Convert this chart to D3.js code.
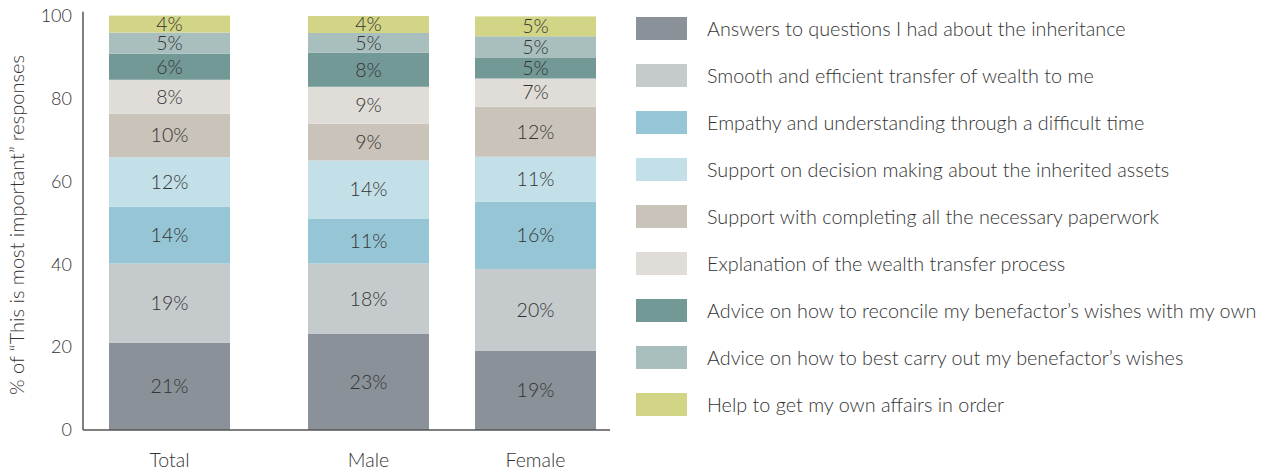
<!DOCTYPE html>
<html>
<head>
<meta charset="utf-8">
<script src="https://cdn.jsdelivr.net/npm/d3@7"></script>
<style>
  body { margin: 0; background: #fff; }
  text { font-family: Lato, "Open Sans", sans-serif; font-weight: 300; fill: #333; }
</style>
</head>
<body>
<div id="chart"></div>
<script>
//////////////////////////////////////////////////////////////////////////////
// Data

var categories = ["Total", "Male", "Female"];

var series = [
    "Answers to questions I had about the inheritance",
    "Smooth and efficient transfer of wealth to me",
    "Empathy and understanding through a difficult time",
    "Support on decision making about the inherited assets",
    "Support with completing all the necessary paperwork",
    "Explanation of the wealth transfer process",
    "Advice on how to reconcile my benefactor\u2019s wishes with my own",
    "Advice on how to best carry out my benefactor\u2019s wishes",
    "Help to get my own affairs in order"
];

// segment sizes as drawn (bottom to top)
var totalValues  = [21.1, 19.1, 13.7, 12.0, 10.5, 8.2, 6.3, 5.1, 4.1];
var maleValues   = [23.2, 17.0, 10.9, 14.0,  8.9, 8.9, 8.2, 4.8, 4.1];
var femaleValues = [19.1, 19.8, 16.2, 10.9, 12.1, 6.8, 5.1, 5.1, 4.8];

// printed labels
var totalLabels  = ["21%", "19%", "14%", "12%", "10%", "8%", "6%", "5%", "4%"];
var maleLabels   = ["23%", "18%", "11%", "14%", "9%", "9%", "8%", "5%", "4%"];
var femaleLabels = ["19%", "20%", "16%", "11%", "12%", "7%", "5%", "5%", "5%"];

var yTicks = [0, 20, 40, 60, 80, 100];

var colors = ["#8a9199", "#c5cacd", "#96c6d6", "#c3e0e8", "#c9c3b9",
              "#e0ddd8", "#739997", "#a9bfbe", "#d2d585"];

//////////////////////////////////////////////////////////////////////////////
// Layout

var width = 1267, height = 471;
var values = [totalValues, maleValues, femaleValues];
var labels = [totalLabels, maleLabels, femaleLabels];

var rows = categories.map(function(c, i) {
    var r = { cat: c };
    series.forEach(function(s, j) { r[s] = values[i][j]; r["lbl" + j] = labels[i][j]; });
    return r;
});

var stacked = d3.stack().keys(series)(rows);

var xScale = d3.scaleOrdinal().domain(categories).range([169.5, 368.5, 535.5]);
var barW = 121;
var yScale = d3.scaleLinear().domain([0, 100]).range([430, 16]);
var color = d3.scaleOrdinal().domain(series).range(colors);

var svg = d3.select("#chart").append("svg")
    .attr("width", width)
    .attr("height", height);

//////////////////////////////////////////////////////////////////////////////
// Bars

var layer = svg.append("g").selectAll("g")
    .data(stacked)
    .enter().append("g")
    .attr("fill", function(d) { return color(d.key); });

layer.selectAll("rect")
    .data(function(d) { return d; })
    .enter().append("rect")
    .attr("x", function(d) { return xScale(d.data.cat) - barW / 2; })
    .attr("y", function(d) { return yScale(d[1]); })
    .attr("width", barW)
    .attr("height", function(d) { return yScale(d[0]) - yScale(d[1]); });

layer.each(function(s, j) {
    d3.select(this).selectAll("text")
        .data(s)
        .enter().append("text")
        .attr("x", function(d) { return xScale(d.data.cat); })
        .attr("y", function(d) { return (yScale(d[0]) + yScale(d[1])) / 2; })
        .attr("dy", "0.35em")
        .attr("text-anchor", "middle")
        .style("font-size", "19.5px")
        .text(function(d) { return d.data["lbl" + j]; });
});

//////////////////////////////////////////////////////////////////////////////
// Axes

var yAxis = svg.append("g")
    .attr("transform", "translate(83,0)")
    .call(d3.axisLeft(yScale).tickValues(yTicks).tickSize(0).tickPadding(11));
yAxis.select(".domain").remove();
yAxis.selectAll("text")
    .style("font-size", "18px")
    .style("font-family", "Lato, sans-serif")
    .style("font-weight", 300)
    .attr("fill", "#333");

svg.append("line")
    .attr("x1", 83).attr("x2", 83)
    .attr("y1", yScale(101)).attr("y2", yScale(0))
    .attr("stroke", "#555").attr("stroke-width", 1.5);

svg.append("line")
    .attr("x1", 83).attr("x2", 610)
    .attr("y1", yScale(0)).attr("y2", yScale(0))
    .attr("stroke", "#555").attr("stroke-width", 1.5);

svg.append("g").selectAll("text")
    .data(categories)
    .enter().append("text")
    .attr("x", function(d) { return xScale(d); })
    .attr("y", 467)
    .attr("text-anchor", "middle")
    .style("font-size", "19.5px")
    .text(function(d) { return d; });

svg.append("text")
    .attr("transform", "translate(24," + yScale(49.5) + ") rotate(-90)")
    .attr("text-anchor", "middle")
    .style("font-size", "20px")
    .text("% of \u201cThis is most important\u201d responses");

//////////////////////////////////////////////////////////////////////////////
// Legend

var legend = svg.append("g").selectAll("g")
    .data(series)
    .enter().append("g")
    .attr("transform", function(d, i) { return "translate(636," + (17 + i * 47) + ")"; });

legend.append("rect")
    .attr("width", 51)
    .attr("height", 23)
    .attr("fill", function(d) { return color(d); });

legend.append("text")
    .attr("x", 71)
    .attr("y", 11.5)
    .attr("dy", "0.36em")
    .style("font-size", "19.8px")
    .text(function(d) { return d; });
</script>
</body>
</html>
